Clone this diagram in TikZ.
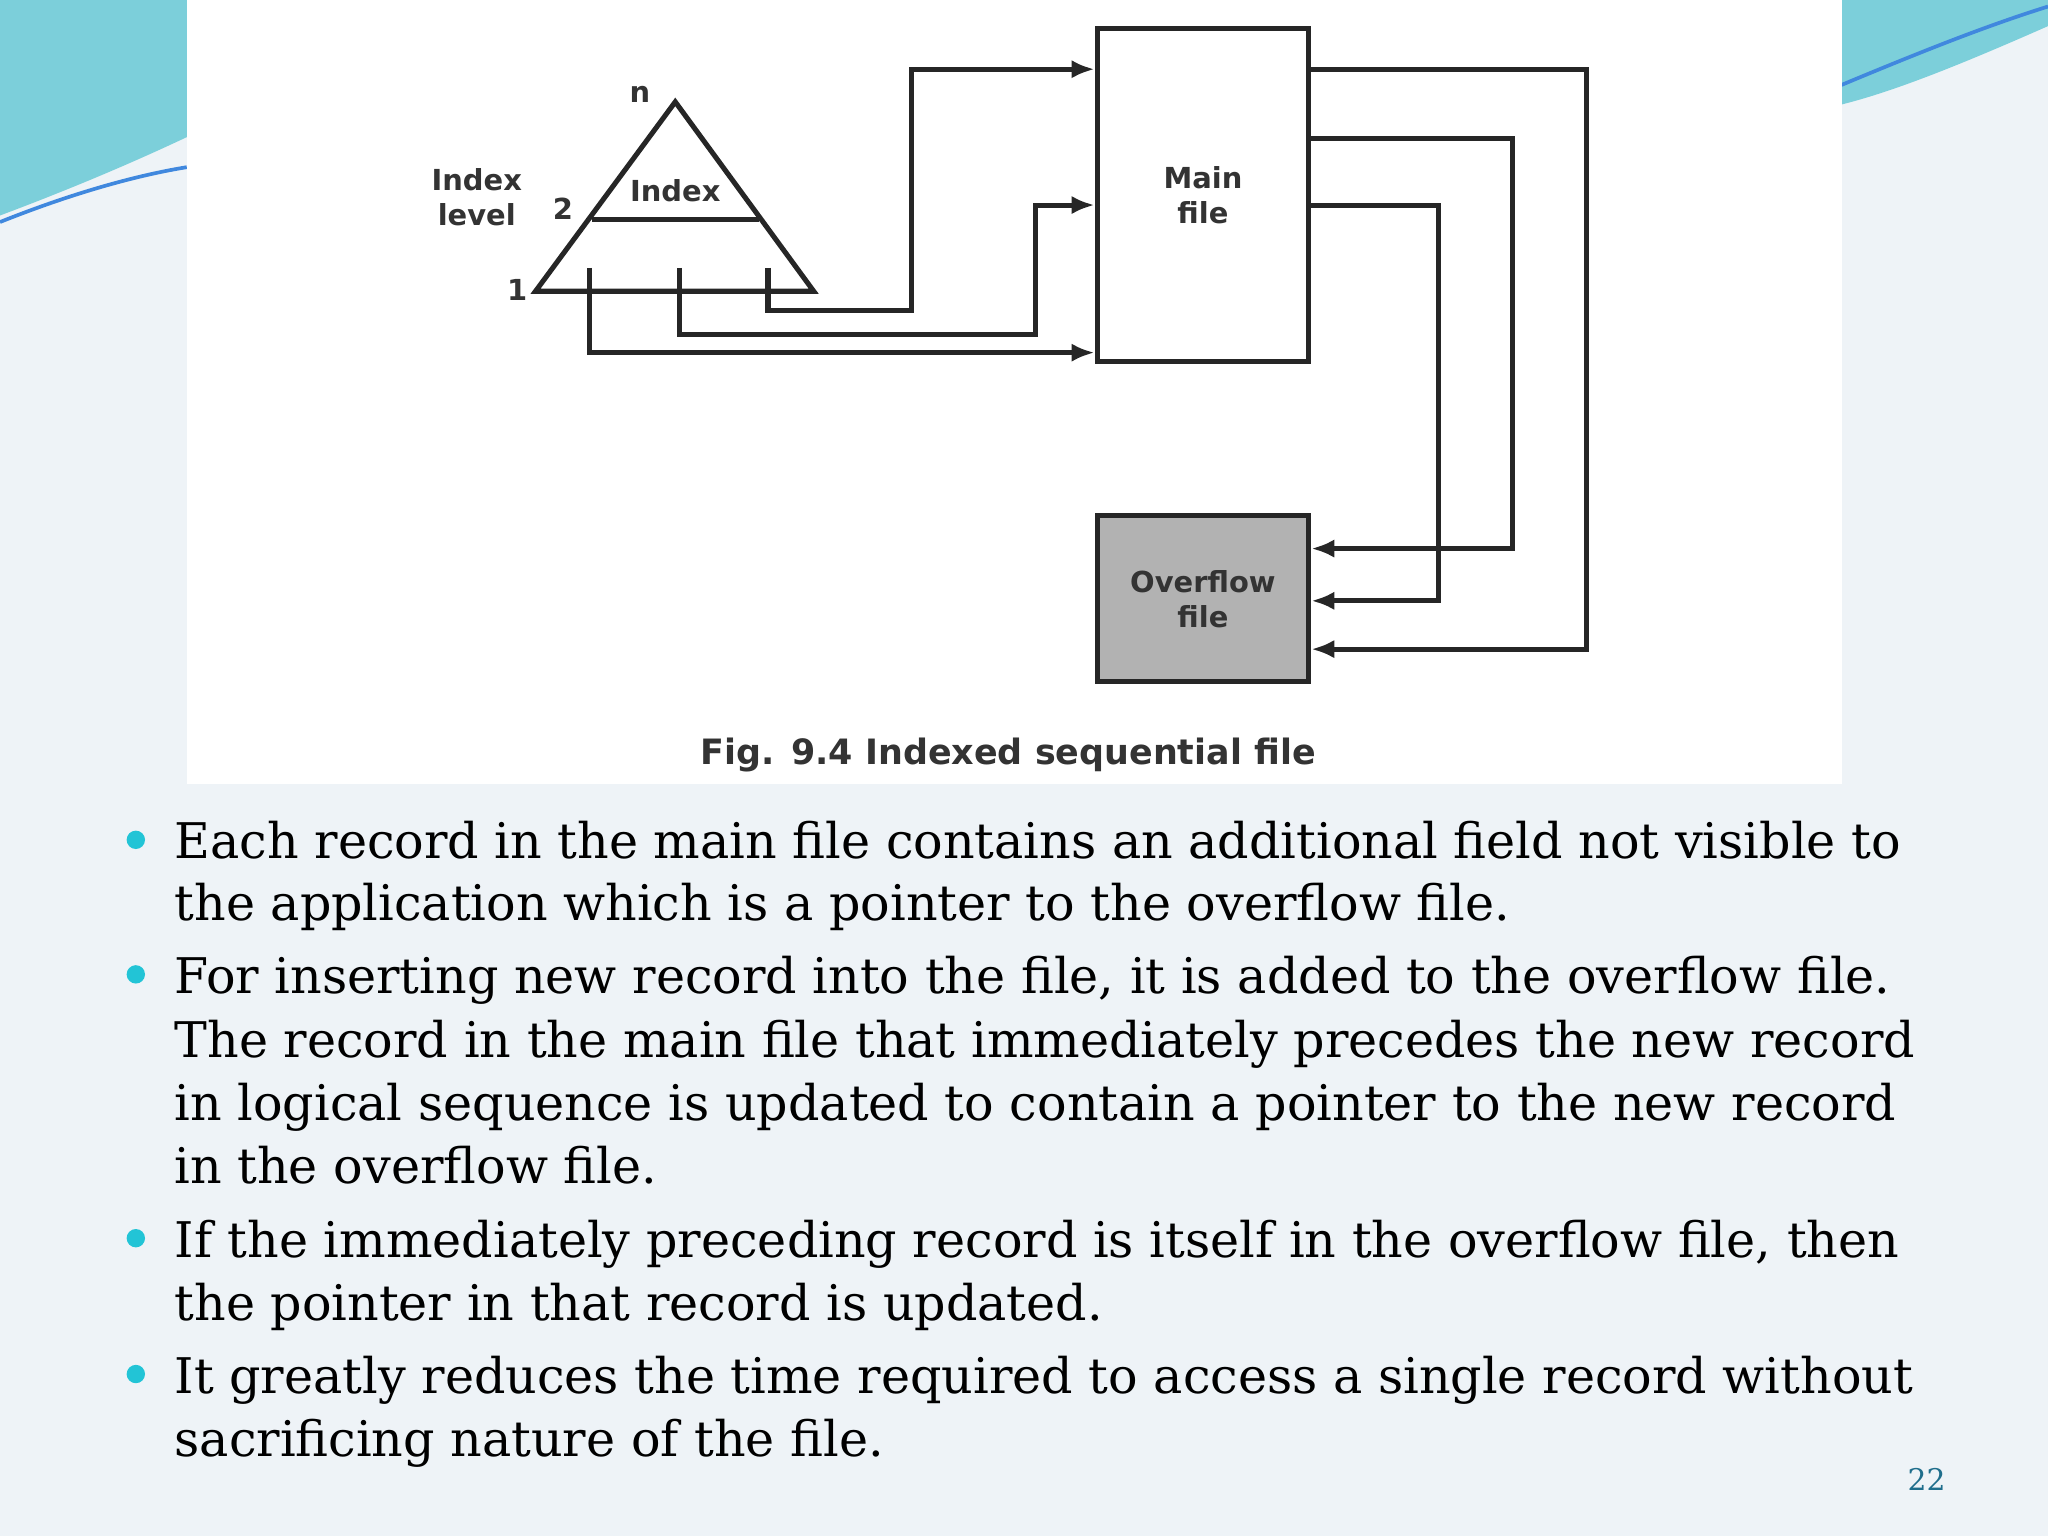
\documentclass[tikz,border=0pt]{standalone}
\usepackage{fontspec}
\setmainfont{DejaVu Serif}
\newfontfamily\figfont{DejaVu Sans}
\usetikzlibrary{arrows.meta}
\definecolor{slidebg}{HTML}{EEF3F7}
\definecolor{teal1}{HTML}{5BC3D0}
\definecolor{bul}{HTML}{22C4D6}
\definecolor{pnum}{HTML}{1F6E8C}
\tikzset{
  ln/.style={line width=1.1pt,black!85},
  arr/.style={ln,-{Latex[length=5pt,width=4pt]}},
  lbl/.style={font=\figfont\bfseries\fontsize{6.3}{7.6}\selectfont,align=center,text=black!80},
  bline/.style={anchor=base west,font=\fontsize{10.7}{12}\selectfont,inner sep=0pt},
  dot/.style={circle,fill=bul,inner sep=0pt,minimum size=4pt}
}
\begin{document}
\begin{tikzpicture}[x=0.01cm,y=-0.01cm]
\fill[slidebg] (0,0) rectangle (1568,1176);
\useasboundingbox (0,0) rectangle (1568,1176);
% corner decorations
\fill[teal1!80] (0,0) -- (143,0) -- (143,105) .. controls (90,130) and (40,150) .. (0,165) -- cycle;
\draw[teal1!70!blue,line width=0.8pt] (0,170) .. controls (50,150) and (100,135) .. (143,128);
\fill[teal1!80] (1410,0) -- (1568,0) -- (1568,20) .. controls (1500,50) and (1450,70) .. (1410,80) -- cycle;
\draw[teal1!70!blue,line width=0.8pt] (1410,65) .. controls (1470,40) and (1520,20) .. (1568,5);
\fill[white] (143,0) rectangle (1410,600);
% triangle
\coordinate (apex) at (517,78);
\coordinate (bl) at (410,223);
\coordinate (br) at (623,223);
\draw[ln,line join=miter] (apex) -- (bl) -- (br) -- cycle;
\draw[ln] (453,168) -- (581,168);
\node[lbl] (n) at (490,72) {n};
\node[lbl] (idx) at (517,146) {Index};
\node[lbl] (il) at (365,151) {Index\\level};
\node[lbl] (two) at (431,160) {2};
\node[lbl] (one) at (396,222) {1};
% boxes
\node[draw,ln,minimum width=1.62cm,minimum height=2.55cm,lbl] (main) at (921,149.5) {Main\\file};
\node[draw,ln,fill=black!30,minimum width=1.62cm,minimum height=1.27cm,lbl] (ovf) at (921,458.5) {Overflow\\file};
% connectors index -> main
\coordinate (s1) at (588,205);
\draw[arr] (s1) |- (698,238) |- (main.west |- 0,53);
\coordinate (s2) at (520,205);
\draw[arr] (s2) |- (793,256) |- (main.west |- 0,157);
\coordinate (s3) at (451,205);
\draw[arr] (s3) |- (main.west |- 0,270);
% main -> overflow
\draw[arr] (main.east |- 0,53) -| (1215,497) -- (ovf.east |- 0,497);
\draw[arr] (main.east |- 0,106) -| (1158,420) -- (ovf.east |- 0,420);
\draw[arr] (main.east |- 0,157) -| (1101,460) -- (ovf.east |- 0,460);
\node[lbl,font=\figfont\bfseries\fontsize{7.6}{9}\selectfont] (cap) at (772,578) {Fig. 9.4 Indexed sequential file};
% bullets
\node[dot] (d1) at (104,643) {};
\node[dot] (d2) at (104,746) {};
\node[dot] (d3) at (104,948) {};
\node[dot] (d4) at (104,1052) {};
\node[bline] (t1) at (133,657) {Each record in the main file contains an additional field not visible to};
\node[bline] (t2) at (133,705) {the application which is a pointer to the overflow file.};
\node[bline] (t3) at (133,761) {For inserting new record into the file, it is added to the overflow file.};
\node[bline] (t4) at (133,810) {The record in the main file that immediately precedes the new record};
\node[bline] (t5) at (133,858) {in logical sequence is updated to contain a pointer to the new record};
\node[bline] (t6) at (133,906) {in the overflow file.};
\node[bline] (t7) at (133,963) {If the immediately preceding record is itself in the overflow file, then};
\node[bline] (t8) at (133,1011) {the pointer in that record is updated.};
\node[bline] (t9) at (133,1067) {It greatly reduces the time required to access a single record without};
\node[bline] (t10) at (133,1115) {sacrificing nature of the file.};
\node[font=\fontsize{6.5}{8}\selectfont,text=pnum] (pg) at (1475,1133) {22};
\end{tikzpicture}
\end{document}
